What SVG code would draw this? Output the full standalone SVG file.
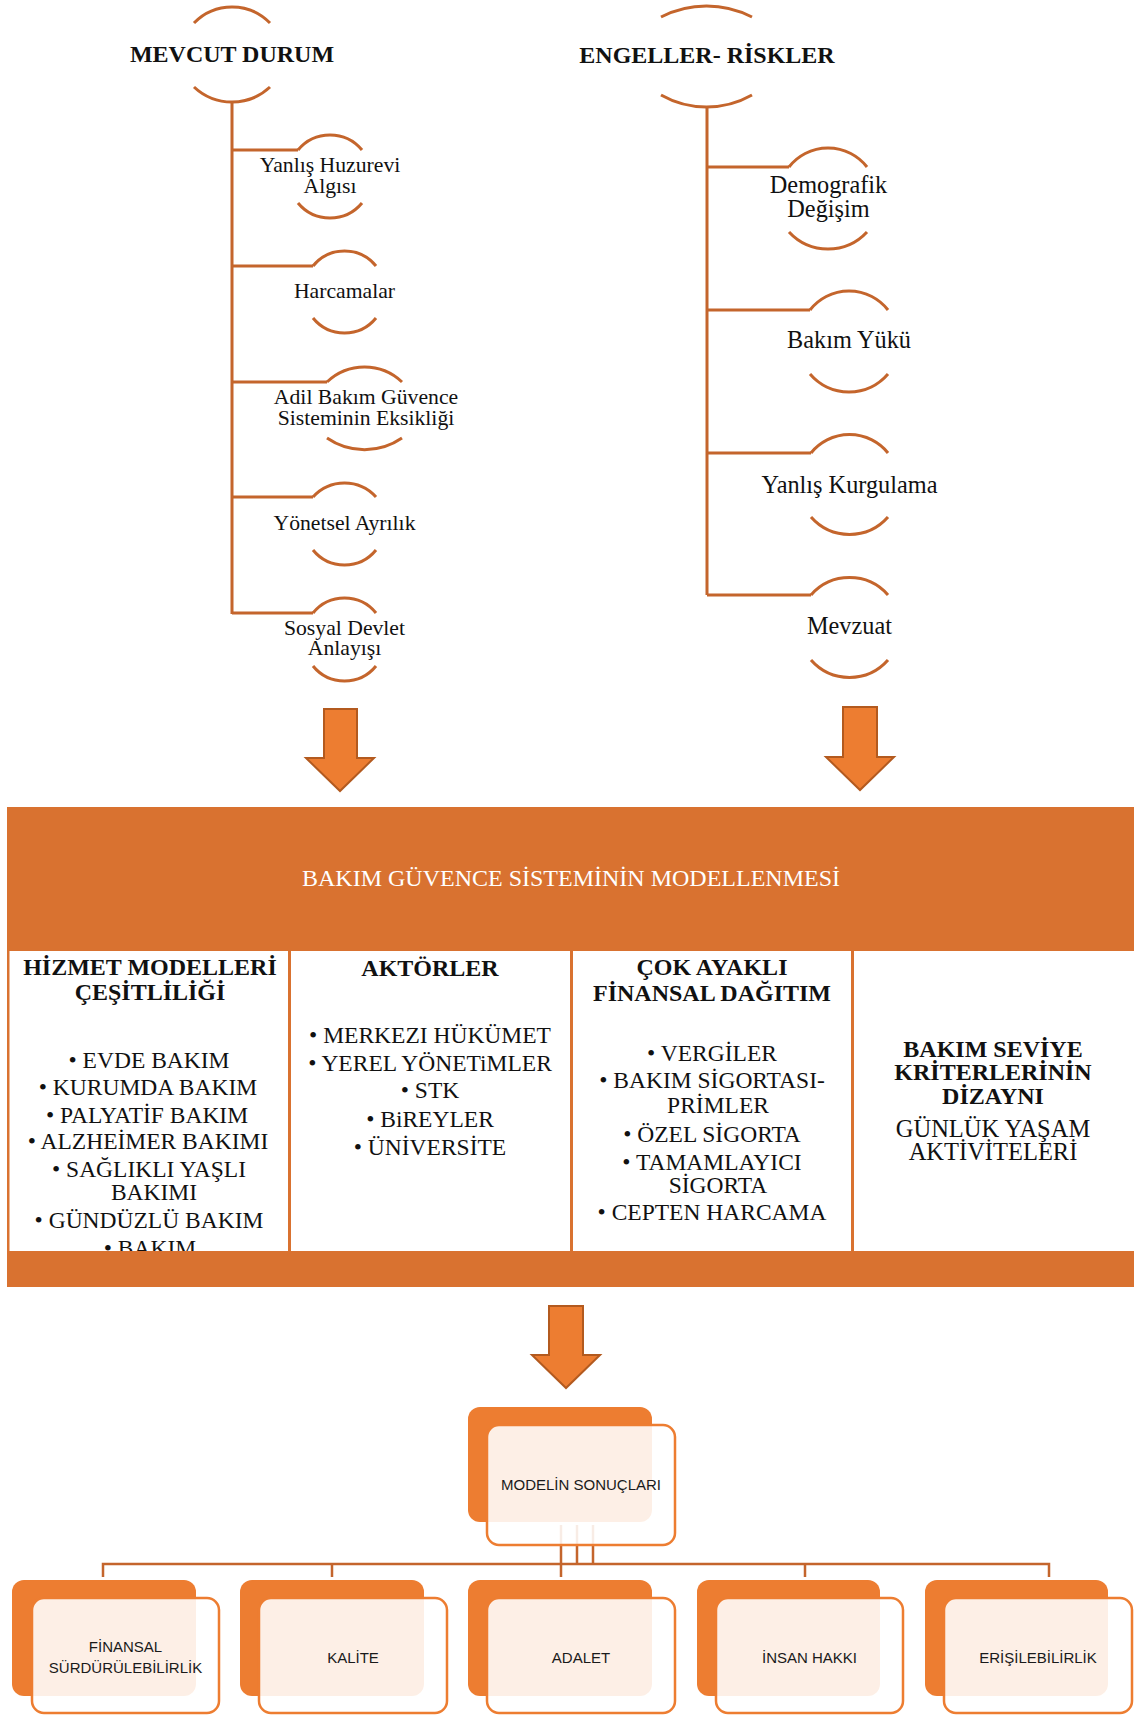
<svg xmlns="http://www.w3.org/2000/svg" width="1134" height="1715" viewBox="0 0 1134 1715">
  <style>
    .arc { fill: none; stroke: #C4652C; stroke-width: 3; }
    .trunk { fill: none; stroke: #C4652C; stroke-width: 3; }
    .serif { font-family: "Liberation Serif", "Times New Roman", serif; fill: #111; }
    .title { font-weight: bold; }
    .mid { text-anchor: middle; }
    .lnode { font-size: 21.7px; }
    .rnode { font-size: 24.3px; }
    .head { font-size: 24px; }
    .item { font-size: 23.5px; }
    .arrow { fill: #ED7D31; stroke: #B35A1F; stroke-width: 2; }
    .link { fill: none; stroke: #C4652C; stroke-width: 2.5; }
    .back { fill: #ED7D31; }
    .front { fill: #FFFFFF; fill-opacity: 0.88; stroke: #ED7D31; stroke-width: 2.5; }
    .sans { font-family: "Liberation Sans", Arial, sans-serif; fill: #1a1a1a; font-size: 15px; text-anchor: middle; }
  </style>
  <defs>
    <clipPath id="col1clip"><rect x="9" y="951" width="279" height="300"/></clipPath>
  </defs>
  <rect x="0" y="0" width="1134" height="1715" fill="#FFFFFF"/>

  <!-- left tree: current situation -->
  <g id="tree-left-lines">
    <path class="trunk" d="M232,102 V614"/>
    <path class="trunk" d="M232,150 H298 M232,266 H313 M232,382 H327 M232,497 H313 M232,613 H313"/>
  </g>
  <g id="mevcut-durum">
    <path class="arc" d="M194,23 A53,53 0 0 1 270,23"/>
    <path class="arc" d="M194,87 A55.6,55.6 0 0 0 270,87"/>
    <text class="serif title mid" x="232" y="62" font-size="24">MEVCUT DURUM</text>
  </g>
  <g id="yanlis-huzurevi">
    <path class="arc" d="M298,150 A41.6,41.6 0 0 1 362,150"/>
    <path class="arc" d="M298,203 A41.6,41.6 0 0 0 362,203"/>
    <text class="serif mid lnode" x="330" y="172">Yanlış Huzurevi</text>
    <text class="serif mid lnode" x="330" y="193">Algısı</text>
  </g>
  <g id="harcamalar">
    <path class="arc" d="M313,266 A40.6,40.6 0 0 1 376,266"/>
    <path class="arc" d="M313,318 A40.6,40.6 0 0 0 376,318"/>
    <text class="serif mid lnode" x="344.5" y="298">Harcamalar</text>
  </g>
  <g id="adil-bakim">
    <path class="arc" d="M327,382 A54.4,54.4 0 0 1 402,382"/>
    <path class="arc" d="M327,438 A66,66 0 0 0 402,438"/>
    <text class="serif mid lnode" x="366" y="404">Adil Bakım Güvence</text>
    <text class="serif mid lnode" x="366" y="425">Sisteminin Eksikliği</text>
  </g>
  <g id="yonetsel-ayrilik">
    <path class="arc" d="M313,497 A42.4,42.4 0 0 1 376,497"/>
    <path class="arc" d="M313,550 A40.6,40.6 0 0 0 376,550"/>
    <text class="serif mid lnode" x="344.5" y="530">Yönetsel Ayrılık</text>
  </g>
  <g id="sosyal-devlet">
    <path class="arc" d="M313,613 A40.6,40.6 0 0 1 376,613"/>
    <path class="arc" d="M313,666 A40.6,40.6 0 0 0 376,666"/>
    <text class="serif mid lnode" x="344.5" y="635">Sosyal Devlet</text>
    <text class="serif mid lnode" x="344.5" y="655">Anlayışı</text>
  </g>

  <!-- right tree: obstacles and risks -->
  <g id="tree-right-lines">
    <path class="trunk" d="M707,107 V595"/>
    <path class="trunk" d="M707,167 H789 M707,310 H810 M707,453 H811 M707,595 H811"/>
  </g>
  <g id="engeller-riskler">
    <path class="arc" d="M661,17 A99.6,99.6 0 0 1 752,17"/>
    <path class="arc" d="M661,95 A92.3,92.3 0 0 0 752,95"/>
    <text class="serif title mid" x="707" y="63" font-size="24">ENGELLER- RİSKLER</text>
  </g>
  <g id="demografik-degisim">
    <path class="arc" d="M789,167 A49.5,49.5 0 0 1 867,167"/>
    <path class="arc" d="M789,232 A53.2,53.2 0 0 0 867,232"/>
    <text class="serif mid rnode" x="828.5" y="193">Demografik</text>
    <text class="serif mid rnode" x="828.5" y="217">Değişim</text>
  </g>
  <g id="bakim-yuku">
    <path class="arc" d="M810,310 A49.5,49.5 0 0 1 888,310"/>
    <path class="arc" d="M810,374 A51.3,51.3 0 0 0 888,374"/>
    <text class="serif mid rnode" x="849" y="348">Bakım Yükü</text>
  </g>
  <g id="yanlis-kurgulama">
    <path class="arc" d="M811,453 A49.5,49.5 0 0 1 888,453"/>
    <path class="arc" d="M811,517 A51.3,51.3 0 0 0 888,517"/>
    <text class="serif mid rnode" x="849.5" y="493">Yanlış Kurgulama</text>
  </g>
  <g id="mevzuat">
    <path class="arc" d="M811,595 A51.3,51.3 0 0 1 888,595"/>
    <path class="arc" d="M811,660 A51.3,51.3 0 0 0 888,660"/>
    <text class="serif mid rnode" x="849.5" y="634">Mevzuat</text>
  </g>

  <!-- block arrows -->
  <g id="arrows">
    <path class="arrow" d="M324,709 H357 V758 H374 L340,791 L306,758 H324 Z"/>
    <path class="arrow" d="M843,707 H877 V757 H894 L860,790 L826,757 H843 Z"/>
    <path class="arrow" d="M549,1306 H583 V1355 H600 L566,1388 L532,1355 H549 Z"/>
  </g>

  <!-- modelling banner with four panels -->
  <g id="banner">
    <rect x="7" y="807" width="1127" height="480" fill="#D97230"/>
    <text class="mid" x="571" y="886" font-size="24" font-family="Liberation Serif, Times New Roman, serif" fill="#FFFFFF">BAKIM GÜVENCE SİSTEMİNİN MODELLENMESİ</text>
  </g>
  <g id="panel-hizmet">
    <rect x="9.5" y="951" width="278.5" height="300" fill="#FFFFFF"/>
    <g clip-path="url(#col1clip)">
      <text class="serif title mid head" x="150" y="975">HİZMET MODELLERİ</text>
      <text class="serif title mid head" x="150" y="1000">ÇEŞİTLİLİĞİ</text>
      <text class="serif mid item" x="149" y="1068">• EVDE BAKIM</text>
      <text class="serif mid item" x="148" y="1095">• KURUMDA BAKIM</text>
      <text class="serif mid item" x="147" y="1123">• PALYATİF BAKIM</text>
      <text class="serif mid item" x="148" y="1149">• ALZHEİMER BAKIMI</text>
      <text class="serif mid item" x="149" y="1177">• SAĞLIKLI YAŞLI</text>
      <text class="serif mid item" x="154" y="1200">BAKIMI</text>
      <text class="serif mid item" x="149" y="1228">• GÜNDÜZLÜ BAKIM</text>
      <text class="serif mid item" x="150" y="1256">• BAKIM</text>
    </g>
  </g>
  <g id="panel-aktorler">
    <rect x="291" y="951" width="279" height="300" fill="#FFFFFF"/>
    <text class="serif title mid head" x="430" y="976">AKTÖRLER</text>
    <text class="serif mid item" x="430" y="1043">• MERKEZI HÜKÜMET</text>
    <text class="serif mid item" x="430" y="1071">• YEREL YÖNETiMLER</text>
    <text class="serif mid item" x="430" y="1098">• STK</text>
    <text class="serif mid item" x="430" y="1127">• BiREYLER</text>
    <text class="serif mid item" x="430" y="1155">• ÜNİVERSİTE</text>
  </g>
  <g id="panel-finansal">
    <rect x="573" y="951" width="278" height="300" fill="#FFFFFF"/>
    <text class="serif title mid head" x="712" y="975">ÇOK AYAKLI</text>
    <text class="serif title mid head" x="712" y="1001">FİNANSAL DAĞITIM</text>
    <text class="serif mid item" x="712" y="1061">• VERGİLER</text>
    <text class="serif mid item" x="712" y="1088">• BAKIM SİGORTASI-</text>
    <text class="serif mid item" x="718" y="1113">PRİMLER</text>
    <text class="serif mid item" x="712" y="1142">• ÖZEL SİGORTA</text>
    <text class="serif mid item" x="712" y="1170">• TAMAMLAYICI</text>
    <text class="serif mid item" x="718" y="1193">SİGORTA</text>
    <text class="serif mid item" x="712" y="1220">• CEPTEN HARCAMA</text>
  </g>
  <g id="panel-seviye">
    <rect x="854" y="951" width="280" height="300" fill="#FFFFFF"/>
    <text class="serif title mid head" x="993" y="1057">BAKIM SEVİYE</text>
    <text class="serif title mid head" x="993" y="1080">KRİTERLERİNİN</text>
    <text class="serif title mid head" x="993" y="1104">DİZAYNI</text>
    <text class="serif mid" x="993" y="1137" font-size="24.5">GÜNLÜK YAŞAM</text>
    <text class="serif mid" x="993" y="1160" font-size="24.5">AKTİVİTELERİ</text>
  </g>

  <!-- outcome hierarchy connectors -->
  <g id="connectors">
    <path class="link" d="M103,1577 V1564 H1049 V1577"/>
    <path class="link" d="M332,1564 V1577 M805,1564 V1577"/>
    <path class="link" d="M561,1525 V1577 M577,1525 V1564 M593,1525 V1564"/>
  </g>

  <!-- outcome nodes -->
  <g id="modelin-sonuclari">
    <rect class="back" x="468" y="1407" width="184" height="115" rx="12"/>
    <rect class="front" x="487" y="1425" width="188" height="120" rx="12"/>
    <text class="sans" x="581" y="1490" font-size="16.3">MODELİN SONUÇLARI</text>
  </g>
  <g id="finansal-surdurulebilirlik">
    <rect class="back" x="12" y="1580" width="184" height="116" rx="12"/>
    <rect class="front" x="32" y="1598" width="187" height="115" rx="12"/>
    <text class="sans" x="125.5" y="1652">FİNANSAL</text>
    <text class="sans" x="125.5" y="1673">SÜRDÜRÜLEBİLİRLİK</text>
  </g>
  <g id="kalite">
    <rect class="back" x="240" y="1580" width="184" height="116" rx="12"/>
    <rect class="front" x="259" y="1598" width="188" height="115" rx="12"/>
    <text class="sans" x="353" y="1663">KALİTE</text>
  </g>
  <g id="adalet">
    <rect class="back" x="468" y="1580" width="184" height="116" rx="12"/>
    <rect class="front" x="487" y="1598" width="188" height="115" rx="12"/>
    <text class="sans" x="581" y="1663">ADALET</text>
  </g>
  <g id="insan-hakki">
    <rect class="back" x="697" y="1580" width="183" height="116" rx="12"/>
    <rect class="front" x="716" y="1598" width="187" height="115" rx="12"/>
    <text class="sans" x="809.5" y="1663" font-size="15.5">İNSAN HAKKI</text>
  </g>
  <g id="erisilebilirlik">
    <rect class="back" x="925" y="1580" width="183" height="116" rx="12"/>
    <rect class="front" x="944" y="1598" width="188" height="115" rx="12"/>
    <text class="sans" x="1038" y="1663" font-size="14.5">ERİŞİLEBİLİRLİK</text>
  </g>
</svg>
